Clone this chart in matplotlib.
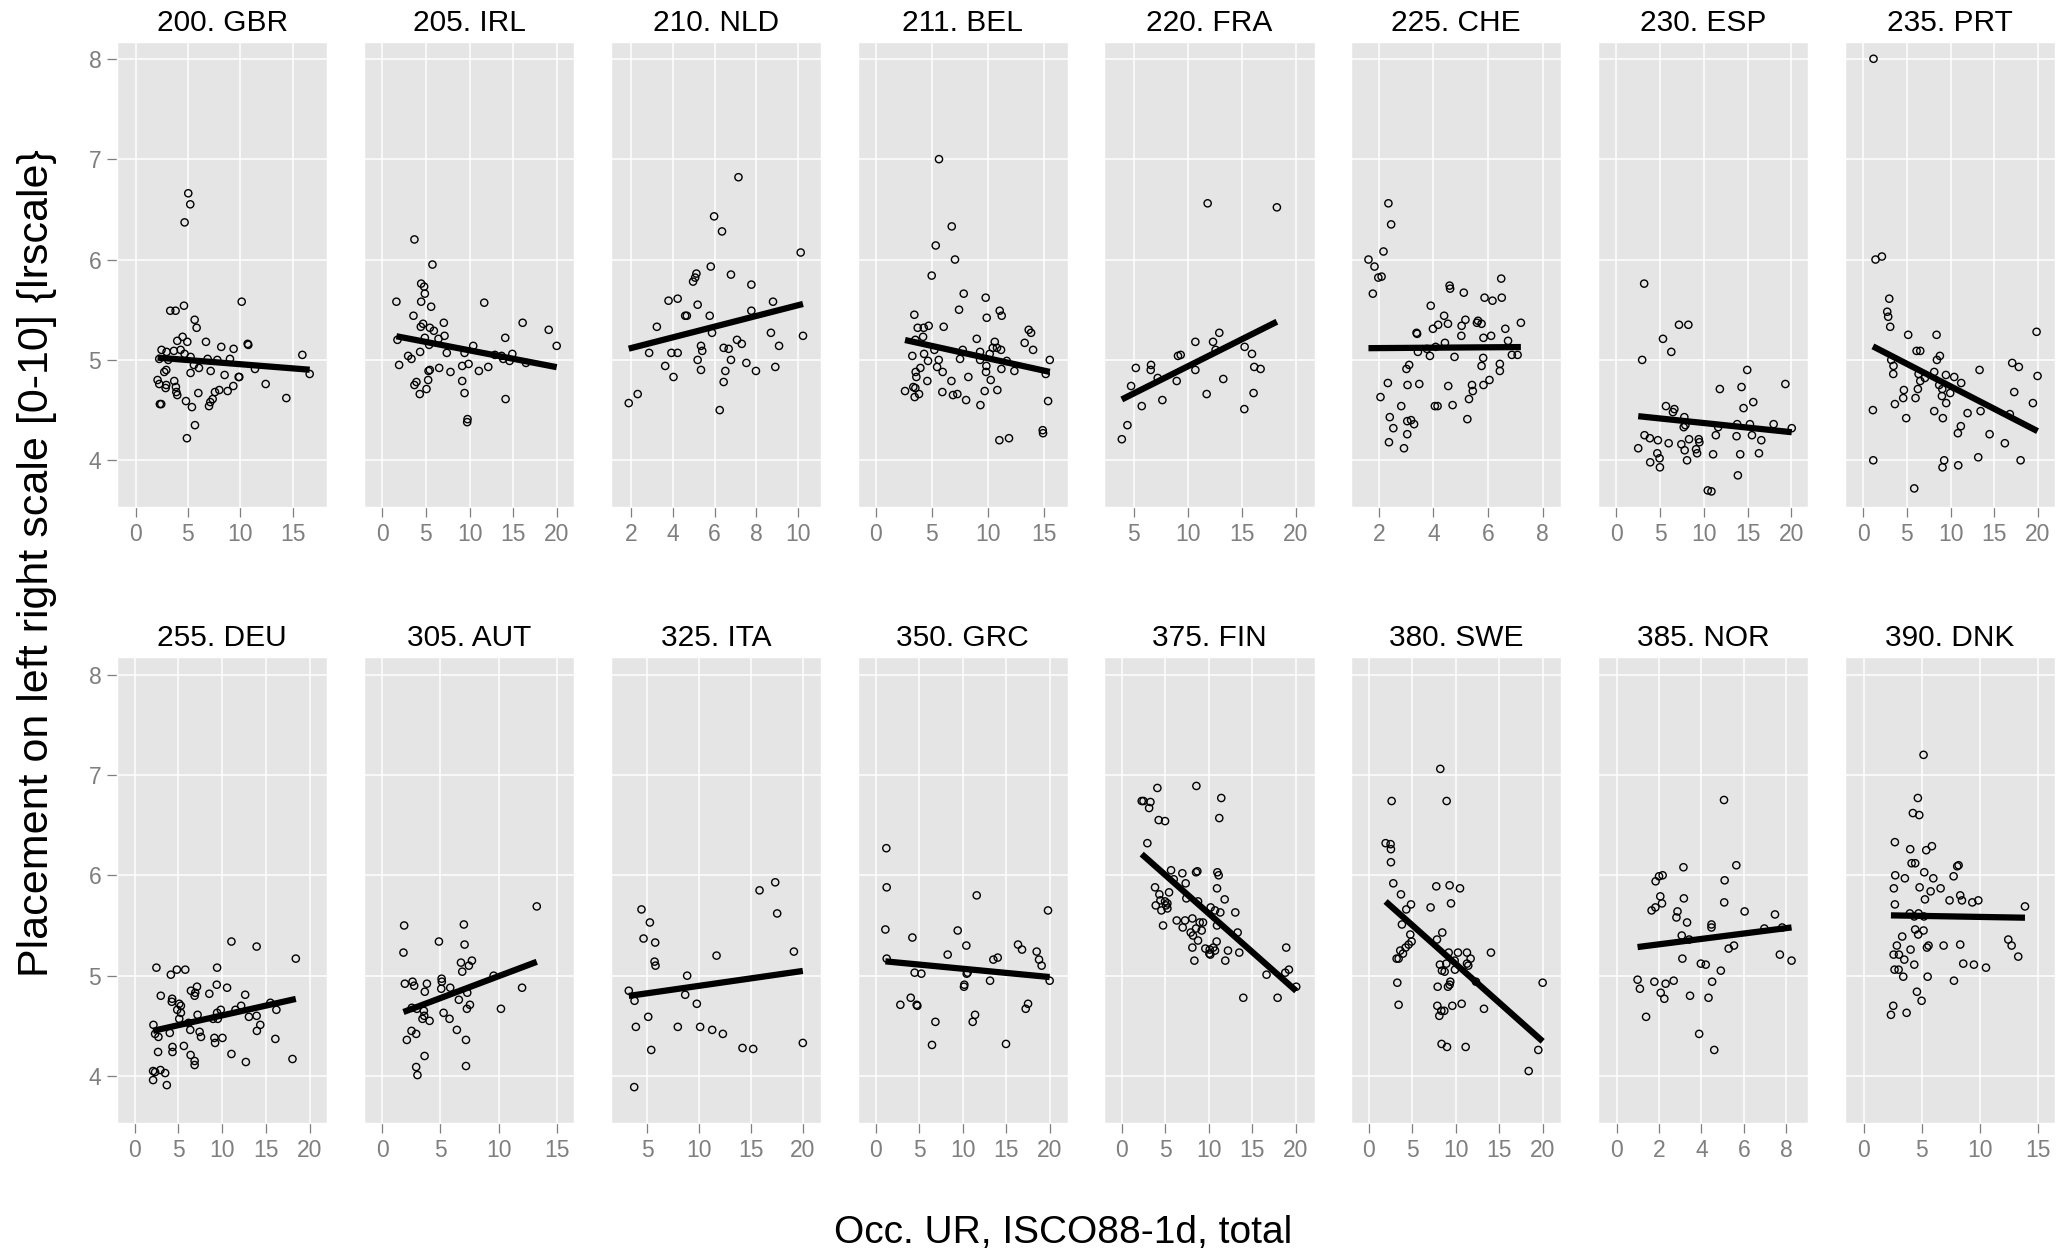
import matplotlib
matplotlib.use('Agg')
import matplotlib.pyplot as plt
import numpy as np

plt.rcParams['font.family'] = ['Liberation Sans', 'DejaVu Sans']

# panel titles
titles = ['200. GBR', '205. IRL', '210. NLD', '211. BEL', '220. FRA', '225. CHE', '230. ESP', '235. PRT',
          '255. DEU', '305. AUT', '325. ITA', '350. GRC', '375. FIN', '380. SWE', '385. NOR', '390. DNK']

# data per country (x = occ. unemployment rate, y = left-right placement)
gbr_x = [5.03, 5.22, 4.68, 4.62, 3.31, 3.82, 10.13, 5.64, 5.83, 4.49, 3.98, 4.94, 6.72, 8.18, 9.36, 10.70,
         10.76, 15.92, 2.48, 2.96, 3.66, 4.30, 4.68, 2.26, 3.12, 5.25, 6.88, 7.80, 9.01, 5.57, 6.05, 11.40,
         2.74, 2.93, 5.25, 7.17, 8.50, 9.84, 9.90, 16.62, 2.10, 2.26, 2.87, 2.93, 3.69, 3.85, 3.89, 3.98,
         5.99, 7.58, 7.99, 8.79, 9.33, 12.42, 4.81, 5.38, 7.01, 7.13, 7.36, 2.32, 2.45, 14.39, 5.67, 4.90]
gbr_y = [6.66, 6.55, 6.37, 5.54, 5.49, 5.49, 5.58, 5.40, 5.32, 5.23, 5.19, 5.18, 5.18, 5.13, 5.11, 5.16,
         5.15, 5.05, 5.10, 5.08, 5.09, 5.10, 5.06, 5.01, 5.00, 5.03, 5.01, 5.00, 5.01, 4.95, 4.92, 4.91,
         4.88, 4.90, 4.87, 4.89, 4.85, 4.83, 4.83, 4.86, 4.80, 4.76, 4.72, 4.75, 4.79, 4.73, 4.68, 4.65,
         4.67, 4.68, 4.70, 4.69, 4.74, 4.76, 4.59, 4.53, 4.54, 4.58, 4.61, 4.56, 4.56, 4.62, 4.35, 4.22]

irl_x = [3.70, 5.76, 4.47, 4.81, 4.89, 4.47, 5.61, 1.64, 11.68, 3.59, 4.69, 4.43, 5.46, 5.92, 7.06, 16.07,
         19.05, 7.14, 4.89, 6.45, 14.08, 1.76, 5.38, 19.96, 10.42, 4.35, 7.40, 9.43, 2.98, 3.36, 12.90, 13.66,
         14.89, 13.85, 14.58, 16.45, 9.89, 1.95, 9.16, 6.53, 12.14, 5.31, 5.46, 11.07, 7.82, 5.27, 9.16, 3.93,
         3.70, 5.08, 4.31, 9.43, 14.12, 9.77, 9.73]
irl_y = [6.20, 5.95, 5.76, 5.73, 5.66, 5.58, 5.53, 5.58, 5.57, 5.44, 5.36, 5.33, 5.32, 5.29, 5.37, 5.37,
         5.30, 5.24, 5.22, 5.21, 5.22, 5.20, 5.15, 5.14, 5.14, 5.08, 5.07, 5.07, 5.04, 5.01, 5.05, 5.04,
         5.06, 5.01, 4.99, 4.97, 4.96, 4.95, 4.94, 4.92, 4.93, 4.89, 4.90, 4.89, 4.88, 4.80, 4.79, 4.78,
         4.75, 4.71, 4.66, 4.67, 4.61, 4.41, 4.38]

nld_x = [7.14, 5.97, 6.35, 10.13, 5.81, 5.12, 5.06, 4.96, 6.78, 7.76, 3.78, 4.22, 8.80, 5.18, 7.76, 4.58,
         4.66, 5.76, 3.22, 5.87, 8.70, 10.24, 7.07, 7.30, 5.34, 9.09, 6.43, 6.67, 5.40, 2.85, 3.92, 4.22,
         5.18, 6.78, 7.52, 3.62, 5.34, 6.51, 7.98, 8.91, 4.02, 6.43, 2.30, 1.87, 6.24]
nld_y = [6.82, 6.43, 6.28, 6.07, 5.93, 5.86, 5.82, 5.78, 5.85, 5.75, 5.59, 5.61, 5.58, 5.55, 5.49, 5.44,
         5.44, 5.44, 5.33, 5.27, 5.27, 5.24, 5.20, 5.16, 5.14, 5.14, 5.12, 5.11, 5.09, 5.07, 5.07, 5.07,
         5.00, 5.00, 4.97, 4.94, 4.90, 4.89, 4.89, 4.93, 4.83, 4.78, 4.66, 4.57, 4.50]

bel_x = [5.65, 6.79, 5.36, 7.08, 5.00, 7.86, 9.82, 7.44, 11.07, 11.25, 9.91, 3.45, 3.75, 4.29, 4.73, 6.07,
         13.66, 13.87, 4.23, 9.02, 3.54, 10.63, 13.30, 5.24, 7.77, 10.45, 10.83, 11.19, 14.05, 9.32, 4.32, 3.27,
         10.18, 7.53, 4.67, 5.63, 9.32, 11.70, 15.54, 5.48, 9.88, 3.99, 11.22, 12.38, 5.98, 9.85, 3.57, 15.18,
         3.63, 8.27, 10.27, 6.76, 4.61, 3.36, 3.54, 2.62, 9.73, 10.86, 3.87, 3.48, 5.95, 6.90, 7.29, 8.07,
         9.35, 15.39, 14.91, 14.94, 11.04, 11.90]
bel_y = [7.00, 6.33, 6.14, 6.00, 5.84, 5.66, 5.62, 5.50, 5.49, 5.44, 5.42, 5.45, 5.32, 5.32, 5.34, 5.33,
         5.30, 5.27, 5.23, 5.21, 5.20, 5.18, 5.17, 5.10, 5.10, 5.12, 5.12, 5.10, 5.10, 5.08, 5.06, 5.04,
         5.06, 5.01, 4.99, 5.00, 5.00, 4.99, 5.00, 4.93, 4.94, 4.92, 4.91, 4.89, 4.88, 4.88, 4.88, 4.86,
         4.83, 4.83, 4.80, 4.79, 4.79, 4.73, 4.72, 4.69, 4.69, 4.70, 4.66, 4.63, 4.68, 4.65, 4.66, 4.60,
         4.55, 4.59, 4.30, 4.27, 4.20, 4.22]

fra_x = [11.85, 18.27, 12.93, 10.71, 12.35, 12.59, 15.28, 15.96, 9.10, 9.35, 6.60, 5.19, 6.57, 10.71,
         16.17, 16.76, 7.22, 8.98, 13.30, 4.75, 11.76, 16.11, 7.65, 5.74, 15.25, 4.41, 3.89]
fra_y = [6.56, 6.52, 5.27, 5.18, 5.18, 5.10, 5.13, 5.06, 5.04, 5.05, 4.95, 4.92, 4.90, 4.90,
         4.93, 4.91, 4.82, 4.79, 4.81, 4.74, 4.66, 4.67, 4.60, 4.54, 4.51, 4.35, 4.21]

che_x = [2.35, 2.45, 2.17, 1.62, 1.84, 1.98, 2.10, 1.78, 6.48, 4.59, 4.61, 5.11, 5.87, 6.16, 6.50, 3.90,
         4.39, 7.20, 4.17, 4.53, 5.17, 5.63, 5.59, 5.76, 5.03, 3.98, 6.63, 3.38, 3.40, 5.02, 6.11, 5.83,
         6.73, 4.42, 4.08, 3.76, 3.43, 6.87, 7.08, 3.87, 4.77, 5.82, 3.11, 3.01, 5.76, 6.43, 6.43, 2.33,
         3.05, 3.48, 4.54, 5.41, 5.44, 5.83, 6.05, 2.06, 2.82, 4.05, 4.15, 4.70, 5.30, 2.40, 2.53, 3.04,
         3.18, 3.29, 5.24, 2.37, 3.04, 2.92]
che_y = [6.56, 6.35, 6.08, 6.00, 5.93, 5.82, 5.83, 5.66, 5.81, 5.74, 5.71, 5.67, 5.62, 5.59, 5.62, 5.54,
         5.44, 5.37, 5.35, 5.36, 5.40, 5.39, 5.37, 5.36, 5.34, 5.31, 5.31, 5.27, 5.26, 5.24, 5.24, 5.22,
         5.19, 5.17, 5.13, 5.11, 5.08, 5.05, 5.05, 5.04, 5.03, 5.02, 4.95, 4.91, 4.94, 4.96, 4.89, 4.77,
         4.75, 4.76, 4.74, 4.75, 4.69, 4.75, 4.80, 4.63, 4.54, 4.54, 4.54, 4.55, 4.61, 4.43, 4.32, 4.39,
         4.40, 4.36, 4.41, 4.18, 4.26, 4.12]

esp_x = [3.17, 7.15, 8.22, 5.32, 6.27, 2.94, 14.95, 11.82, 14.30, 19.31, 15.64, 14.53, 5.66, 6.62, 6.46,
         7.76, 7.69, 7.88, 11.63, 13.80, 15.26, 17.97, 20.04, 3.21, 3.82, 4.74, 5.97, 7.42, 8.30, 9.41,
         9.48, 11.36, 13.73, 15.49, 16.56, 2.49, 4.67, 4.93, 7.80, 9.10, 9.22, 11.05, 14.15, 16.29, 3.86,
         4.97, 8.07, 13.88, 10.44, 10.86]
esp_y = [5.76, 5.35, 5.35, 5.21, 5.08, 5.00, 4.90, 4.71, 4.73, 4.76, 4.58, 4.52, 4.54, 4.51, 4.48,
         4.43, 4.33, 4.35, 4.33, 4.36, 4.36, 4.36, 4.32, 4.25, 4.22, 4.20, 4.17, 4.16, 4.21, 4.21,
         4.18, 4.25, 4.24, 4.25, 4.20, 4.12, 4.07, 4.02, 4.10, 4.11, 4.07, 4.06, 4.06, 4.07, 3.98,
         3.93, 4.00, 3.85, 3.70, 3.69]

prt_x = [1.18, 1.41, 2.14, 2.98, 2.75, 2.86, 3.09, 5.15, 8.40, 19.85, 6.11, 6.53, 8.78, 8.44, 3.21, 3.47,
         3.44, 17.06, 17.82, 8.13, 9.47, 6.34, 13.32, 10.42, 19.96, 7.06, 6.53, 11.22, 8.70, 9.05, 9.96,
         4.66, 6.26, 17.29, 4.58, 5.99, 9.01, 9.50, 3.63, 19.43, 1.11, 8.13, 13.44, 11.95, 16.79, 4.92,
         9.12, 11.18, 10.84, 14.47, 16.22, 1.15, 9.27, 9.08, 10.88, 13.17, 18.02, 5.84]
prt_y = [8.00, 6.00, 6.03, 5.61, 5.48, 5.43, 5.33, 5.25, 5.25, 5.28, 5.09, 5.09, 5.04, 5.00, 5.00, 4.94,
         4.86, 4.97, 4.93, 4.88, 4.85, 4.86, 4.90, 4.83, 4.84, 4.82, 4.79, 4.77, 4.75, 4.71, 4.67,
         4.70, 4.71, 4.68, 4.62, 4.62, 4.64, 4.57, 4.56, 4.57, 4.50, 4.49, 4.49, 4.47, 4.46, 4.42,
         4.42, 4.34, 4.27, 4.26, 4.17, 4.00, 4.00, 3.93, 3.95, 4.03, 4.00, 3.72]

deu_x = [11.07, 13.95, 18.43, 2.49, 4.83, 5.79, 9.43, 4.14, 9.39, 7.13, 10.57, 6.44, 6.93, 6.86, 8.54,
         12.64, 2.99, 4.29, 4.25, 5.10, 5.29, 4.87, 5.29, 5.10, 7.20, 9.85, 9.43, 9.51, 8.97, 11.53, 12.18,
         15.52, 16.21, 13.07, 13.95, 14.37, 13.98, 6.17, 6.36, 7.43, 7.59, 9.12, 9.20, 10.04, 16.09, 2.15,
         2.34, 2.72, 4.02, 5.63, 4.33, 4.33, 2.68, 6.40, 6.86, 6.86, 11.07, 12.72, 18.05, 2.11, 2.34, 2.95,
         3.49, 2.11, 3.68]
deu_y = [5.34, 5.29, 5.17, 5.08, 5.06, 5.06, 5.08, 5.01, 4.91, 4.89, 4.88, 4.85, 4.83, 4.80, 4.82,
         4.81, 4.80, 4.77, 4.74, 4.72, 4.70, 4.66, 4.63, 4.57, 4.61, 4.66, 4.63, 4.57, 4.57, 4.66, 4.70,
         4.73, 4.66, 4.59, 4.60, 4.51, 4.45, 4.53, 4.46, 4.44, 4.39, 4.38, 4.33, 4.38, 4.37, 4.51,
         4.42, 4.39, 4.43, 4.30, 4.29, 4.24, 4.24, 4.21, 4.15, 4.11, 4.22, 4.14, 4.17, 4.05, 4.04, 4.06,
         4.03, 3.96, 3.91]

aut_x = [13.26, 1.89, 7.01, 4.87, 7.07, 1.83, 6.76, 7.70, 7.44, 6.87, 9.56, 5.10, 5.12, 1.95, 2.61, 2.75,
         3.84, 5.07, 5.84, 12.00, 3.66, 7.30, 6.58, 7.53, 7.27, 10.19, 2.55, 2.98, 3.58, 3.61, 3.46, 4.07,
         5.27, 5.78, 6.41, 2.52, 2.92, 2.12, 7.19, 3.64, 2.92, 7.19, 3.03]
aut_y = [5.69, 5.50, 5.51, 5.34, 5.31, 5.23, 5.13, 5.15, 5.10, 5.04, 5.00, 4.97, 4.94, 4.92, 4.94, 4.90,
         4.92, 4.87, 4.88, 4.88, 4.84, 4.83, 4.76, 4.71, 4.67, 4.67, 4.68, 4.67, 4.65, 4.60, 4.57, 4.55,
         4.63, 4.57, 4.46, 4.45, 4.42, 4.36, 4.36, 4.20, 4.09, 4.10, 4.01]

ita_x = [17.33, 15.82, 17.52, 4.45, 5.26, 4.65, 5.77, 19.13, 11.68, 5.71, 5.80, 8.85, 3.23, 3.78, 8.66,
         9.78, 5.10, 3.91, 7.95, 10.10, 11.26, 12.29, 5.39, 14.18, 15.21, 19.99, 3.75]
ita_y = [5.93, 5.85, 5.62, 5.66, 5.53, 5.37, 5.33, 5.24, 5.20, 5.14, 5.10, 5.00, 4.85, 4.75, 4.81,
         4.72, 4.59, 4.49, 4.49, 4.49, 4.46, 4.42, 4.26, 4.28, 4.27, 4.33, 3.89]

grc_x = [1.22, 1.26, 11.59, 19.77, 1.11, 9.41, 4.21, 10.40, 16.33, 16.79, 18.47, 8.26, 18.74, 19.04, 13.50,
         14.00, 1.26, 4.47, 5.24, 10.44, 10.55, 13.12, 19.96, 10.17, 10.13, 4.02, 2.83, 4.70, 4.78, 17.48,
         17.21, 11.40, 11.13, 6.85, 6.46, 14.95]
grc_y = [6.27, 5.88, 5.80, 5.65, 5.46, 5.45, 5.38, 5.30, 5.31, 5.26, 5.24, 5.21, 5.16, 5.10, 5.16,
         5.18, 5.17, 5.03, 5.02, 5.02, 5.03, 4.95, 4.95, 4.91, 4.89, 4.78, 4.71, 4.71, 4.70, 4.72,
         4.67, 4.61, 4.54, 4.54, 4.31, 4.32]

fin_x = [8.57, 4.09, 11.43, 2.29, 2.49, 3.29, 3.14, 11.20, 4.24, 4.97, 2.94, 5.66, 6.96, 8.53, 8.68, 10.98,
         11.13, 5.97, 7.34, 3.82, 10.94, 4.32, 5.43, 7.42, 8.76, 11.82, 4.44, 4.97, 5.24, 3.90, 5.09, 4.55,
         5.24, 10.21, 10.71, 11.32, 13.04, 8.11, 6.31, 7.27, 8.95, 9.33, 4.74, 10.94, 7.00, 8.53, 9.18,
         7.92, 13.31, 8.18, 8.76, 10.90, 8.11, 9.60, 10.10, 10.71, 10.52, 12.20, 10.06, 10.17, 13.50, 18.89,
         8.34, 11.89, 19.20, 18.78, 16.63, 20.04, 13.96, 17.90]
fin_y = [6.89, 6.87, 6.77, 6.74, 6.74, 6.73, 6.67, 6.57, 6.55, 6.54, 6.32, 6.05, 6.02, 6.03, 6.04, 6.03,
         6.00, 5.96, 5.92, 5.88, 5.87, 5.81, 5.83, 5.77, 5.74, 5.76, 5.75, 5.74, 5.72, 5.70, 5.70, 5.65,
         5.67, 5.68, 5.65, 5.63, 5.63, 5.57, 5.55, 5.55, 5.53, 5.53, 5.50, 5.50, 5.48, 5.47, 5.45,
         5.43, 5.43, 5.40, 5.35, 5.34, 5.28, 5.27, 5.26, 5.25, 5.28, 5.25, 5.22, 5.21, 5.23, 5.28,
         5.15, 5.15, 5.06, 5.03, 5.01, 4.89, 4.78, 4.78]

swe_x = [8.22, 2.64, 8.95, 1.95, 2.52, 2.56, 2.56, 2.83, 7.76, 9.29, 10.48, 3.71, 4.86, 4.32, 7.11, 9.45,
         3.82, 8.45, 4.78, 7.84, 4.93, 4.59, 4.24, 3.63, 3.94, 3.21, 3.44, 9.18, 10.25, 11.28, 14.03, 11.70,
         9.87, 8.18, 8.91, 11.28, 11.43, 8.41, 8.72, 9.90, 12.31, 3.29, 9.37, 9.29, 9.10, 7.92, 19.96, 3.44,
         7.88, 9.60, 10.67, 13.23, 8.34, 8.68, 8.11, 8.37, 8.99, 11.13, 19.46, 18.36]
swe_y = [7.06, 6.74, 6.74, 6.32, 6.31, 6.26, 6.13, 5.92, 5.89, 5.90, 5.87, 5.81, 5.71, 5.66, 5.68, 5.72,
         5.51, 5.43, 5.41, 5.36, 5.34, 5.31, 5.28, 5.25, 5.22, 5.17, 5.17, 5.23, 5.23, 5.23, 5.23, 5.17,
         5.15, 5.11, 5.12, 5.12, 5.10, 5.05, 5.04, 5.06, 4.94, 4.93, 4.94, 4.91, 4.89, 4.89, 4.93, 4.71,
         4.70, 4.70, 4.72, 4.67, 4.65, 4.65, 4.60, 4.32, 4.29, 4.29, 4.26, 4.05]

nor_x = [5.06, 5.64, 3.15, 2.00, 2.17, 1.84, 5.09, 2.06, 3.17, 2.14, 1.83, 1.65, 5.07, 6.03, 2.87, 2.82,
         7.46, 3.32, 4.47, 4.47, 6.96, 7.80, 3.07, 3.42, 5.53, 5.28, 7.69, 8.24, 3.10, 3.97, 4.20, 4.91,
         0.99, 1.78, 2.31, 2.69, 4.50, 1.10, 2.08, 2.25, 3.46, 4.33, 1.39, 3.89, 4.60]
nor_y = [6.75, 6.10, 6.08, 5.99, 6.00, 5.94, 5.95, 5.79, 5.77, 5.72, 5.68, 5.65, 5.73, 5.64, 5.64, 5.58,
         5.61, 5.53, 5.51, 5.48, 5.47, 5.48, 5.40, 5.36, 5.30, 5.27, 5.21, 5.15, 5.17, 5.12, 5.11, 5.05,
         4.96, 4.94, 4.92, 4.95, 4.94, 4.87, 4.83, 4.77, 4.80, 4.78, 4.59, 4.42, 4.26]

dnk_x = [5.17, 4.68, 4.25, 4.80, 2.70, 4.02, 5.40, 5.89, 4.14, 4.45, 8.07, 8.19, 2.73, 3.56, 5.23, 6.01,
         7.76, 2.61, 4.83, 5.78, 6.64, 5.29, 7.41, 8.33, 8.48, 9.37, 9.89, 13.91, 2.70, 3.99, 4.74, 4.37,
         5.20, 4.45, 5.17, 4.71, 3.33, 12.47, 12.76, 8.33, 6.90, 5.60, 5.46, 2.87, 4.05, 2.59, 3.05, 3.51,
         13.33, 4.37, 8.59, 9.51, 10.55, 2.67, 3.02, 3.42, 5.52, 7.79, 4.60, 5.00, 2.56, 2.36, 3.71]
dnk_y = [7.20, 6.77, 6.62, 6.60, 6.33, 6.26, 6.25, 6.29, 6.12, 6.12, 6.09, 6.10, 6.00, 5.97, 6.03, 5.97,
         5.99, 5.87, 5.88, 5.84, 5.87, 5.76, 5.75, 5.80, 5.75, 5.73, 5.75, 5.69, 5.71, 5.62, 5.62, 5.59,
         5.59, 5.46, 5.45, 5.41, 5.39, 5.36, 5.30, 5.31, 5.30, 5.30, 5.28, 5.30, 5.26, 5.21, 5.21, 5.16,
         5.19, 5.11, 5.12, 5.11, 5.08, 5.06, 5.06, 4.99, 4.99, 4.95, 4.84, 4.75, 4.70, 4.61, 4.63]

# x axis limits and ticks for each panel
xlims = [(-1.75, 18.3), (-2.06, 21.95), (1.01, 11.10), (-1.61, 17.14), (2.28, 21.76), (0.99, 8.68),
         (-2.10, 21.91), (-2.10, 21.95), (-1.99, 22.03), (-1.55, 16.46), (1.50, 21.73), (-2.07, 22.03),
         (-1.99, 22.14), (-1.99, 22.10), (-0.87, 9.02), (-1.61, 16.49)]
xticks = [[0, 5, 10, 15], [0, 5, 10, 15, 20], [2, 4, 6, 8, 10], [0, 5, 10, 15], [5, 10, 15, 20], [2, 4, 6, 8],
          [0, 5, 10, 15, 20], [0, 5, 10, 15, 20], [0, 5, 10, 15, 20], [0, 5, 10, 15], [5, 10, 15, 20],
          [0, 5, 10, 15, 20], [0, 5, 10, 15, 20], [0, 5, 10, 15, 20], [0, 2, 4, 6, 8], [0, 5, 10, 15]]
yticks = [4, 5, 6, 7, 8]

xs = [gbr_x, irl_x, nld_x, bel_x, fra_x, che_x, esp_x, prt_x,
      deu_x, aut_x, ita_x, grc_x, fin_x, swe_x, nor_x, dnk_x]
ys = [gbr_y, irl_y, nld_y, bel_y, fra_y, che_y, esp_y, prt_y,
      deu_y, aut_y, ita_y, grc_y, fin_y, swe_y, nor_y, dnk_y]

fig, axes = plt.subplots(2, 8, figsize=(20.64, 12.56), dpi=100, sharey=True)
fig.subplots_adjust(left=0.0568, right=0.9956, top=0.9668, bottom=0.1057, wspace=0.175, hspace=0.322)

for i, ax in enumerate(axes.flat):
    x = np.array(xs[i])
    y = np.array(ys[i])
    ax.set_facecolor('#e5e5e5')
    ax.grid(True, color='white', linewidth=1.1)
    ax.set_axisbelow(True)
    for sp in ax.spines.values():
        sp.set_color('white')
        sp.set_linewidth(1.0)

    ax.scatter(x, y, s=27, facecolors='none', edgecolors='black', linewidths=1.0, zorder=3)

    # linear fit, like geom_smooth(method='lm')
    b, a = np.polyfit(x, y, 1)
    xx = np.array([x.min(), x.max()])
    ax.plot(xx, a + b * xx, color='black', linewidth=4.5, solid_capstyle='butt', zorder=4)

    ax.set_xlim(*xlims[i])
    ax.set_xticks(xticks[i])
    ax.set_ylim(3.53, 8.17)
    ax.set_yticks(yticks)
    ax.set_title(titles[i], fontsize=21.5, pad=8)
    ax.tick_params(axis='both', direction='out', length=7.5, width=0.9, color='#7f7f7f',
                   labelcolor='#7f7f7f', labelsize=16.5, pad=4)
    if i % 8 != 0:
        ax.tick_params(axis='y', left=False, labelleft=False)

fig.text(0.515, 0.0183, 'Occ. UR, ISCO88-1d, total', fontsize=28, ha='center', va='center')
fig.text(37 / 2064, 0.552, 'Placement on left right scale [0-10] {lrscale}', fontsize=31,
         rotation=90, ha='center', va='center')

fig.savefig('out.png', dpi=100)
